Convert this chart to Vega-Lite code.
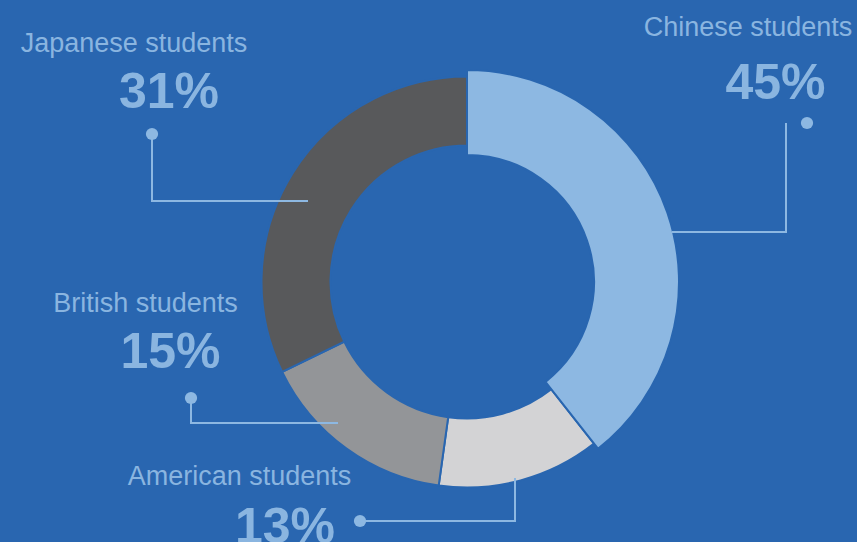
{
  "$schema": "https://vega.github.io/schema/vega-lite/v6.json",
  "width": 857,
  "height": 542,
  "autosize": "none",
  "padding": 0,
  "background": "#2966b0",
  "config": {"view": {"stroke": null}},
  "datasets": {
    "slices": [
      {"group": "Chinese", "share": 39.4, "ord": 1},
      {"group": "American", "share": 12.8, "ord": 2},
      {"group": "British", "share": 15.6, "ord": 3},
      {"group": "Japanese", "share": 32.2, "ord": 4}
    ],
    "names": [
      {"text": "Chinese students", "u": 281, "v": 246},
      {"text": "Japanese students", "u": -333, "v": 230},
      {"text": "British students", "u": -321.5, "v": -30},
      {"text": "American students", "u": -227.5, "v": -203}
    ],
    "pcts": [
      {"text": "45%", "u": 308.5, "v": 183},
      {"text": "31%", "u": -298, "v": 174},
      {"text": "15%", "u": -296.5, "v": -86},
      {"text": "13%", "u": -182, "v": -261}
    ],
    "leaders": [
      {"g": "Chinese", "o": 1, "u": 319, "v": 159},
      {"g": "Chinese", "o": 2, "u": 319, "v": 50},
      {"g": "Chinese", "o": 3, "u": 205, "v": 50},
      {"g": "Japanese", "o": 1, "u": -315, "v": 148},
      {"g": "Japanese", "o": 2, "u": -315, "v": 81},
      {"g": "Japanese", "o": 3, "u": -159, "v": 81},
      {"g": "British", "o": 1, "u": -276, "v": -116},
      {"g": "British", "o": 2, "u": -276, "v": -141},
      {"g": "British", "o": 3, "u": -129, "v": -141},
      {"g": "American", "o": 1, "u": -107, "v": -239},
      {"g": "American", "o": 2, "u": 48, "v": -239},
      {"g": "American", "o": 3, "u": 48, "v": -196}
    ],
    "dots": [
      {"g": "Chinese", "u": 340, "v": 159},
      {"g": "Japanese", "u": -315, "v": 148},
      {"g": "British", "u": -276, "v": -116},
      {"g": "American", "u": -107, "v": -239}
    ]
  },
  "layer": [
    {
      "data": {"name": "slices"},
      "mark": {"type": "arc", "outerRadius": 205.5, "innerRadius": 136.5, "stroke": "#2966b0", "strokeWidth": 2},
      "encoding": {
        "x": {"datum": 0, "type": "quantitative", "scale": {"domain": [-467, 390], "nice": false, "zero": false}, "axis": null},
        "y": {"datum": 0, "type": "quantitative", "scale": {"domain": [-260, 282], "nice": false, "zero": false}, "axis": null},
        "theta": {"field": "share", "type": "quantitative", "stack": true},
        "order": {"field": "ord", "type": "quantitative"},
        "color": {"field": "group", "type": "nominal", "legend": null,
          "scale": {"domain": ["Chinese", "American", "British", "Japanese"], "range": ["#8db8e2", "#d3d3d5", "#939598", "#58595b"]}}
      }
    },
    {
      "data": {"name": "slices"},
      "mark": {"type": "arc", "outerRadius": 212, "innerRadius": 127, "stroke": "#2966b0", "strokeWidth": 2},
      "encoding": {
        "x": {"datum": 0, "type": "quantitative", "scale": {"domain": [-467, 390], "nice": false, "zero": false}, "axis": null},
        "y": {"datum": 0, "type": "quantitative", "scale": {"domain": [-260, 282], "nice": false, "zero": false}, "axis": null},
        "theta": {"field": "share", "type": "quantitative", "stack": true},
        "order": {"field": "ord", "type": "quantitative"},
        "color": {"field": "group", "type": "nominal", "legend": null},
        "opacity": {"condition": {"test": "datum.group == 'Chinese'", "value": 1}, "value": 0}
      }
    },
    {
      "data": {"name": "leaders"},
      "mark": {"type": "line", "color": "#8db8e2", "strokeWidth": 2},
      "encoding": {
        "x": {"field": "u", "type": "quantitative", "scale": {"domain": [-467, 390], "nice": false, "zero": false}, "axis": null},
        "y": {"field": "v", "type": "quantitative", "scale": {"domain": [-260, 282], "nice": false, "zero": false}, "axis": null},
        "detail": {"field": "g"},
        "order": {"field": "o", "type": "quantitative"}
      }
    },
    {
      "data": {"name": "dots"},
      "mark": {"type": "circle", "color": "#8db8e2", "opacity": 1, "size": 150},
      "encoding": {
        "x": {"field": "u", "type": "quantitative", "scale": {"domain": [-467, 390], "nice": false, "zero": false}, "axis": null},
        "y": {"field": "v", "type": "quantitative", "scale": {"domain": [-260, 282], "nice": false, "zero": false}, "axis": null}
      }
    },
    {
      "data": {"name": "names"},
      "mark": {"type": "text", "font": "Liberation Sans", "fontSize": 27, "color": "#8ab5e0", "align": "center", "baseline": "alphabetic"},
      "encoding": {
        "x": {"field": "u", "type": "quantitative", "scale": {"domain": [-467, 390], "nice": false, "zero": false}, "axis": null},
        "y": {"field": "v", "type": "quantitative", "scale": {"domain": [-260, 282], "nice": false, "zero": false}, "axis": null},
        "text": {"field": "text"}
      }
    },
    {
      "data": {"name": "pcts"},
      "mark": {"type": "text", "font": "Liberation Sans", "fontSize": 50, "fontWeight": "bold", "color": "#8ab5e0", "align": "center", "baseline": "alphabetic"},
      "encoding": {
        "x": {"field": "u", "type": "quantitative", "scale": {"domain": [-467, 390], "nice": false, "zero": false}, "axis": null},
        "y": {"field": "v", "type": "quantitative", "scale": {"domain": [-260, 282], "nice": false, "zero": false}, "axis": null},
        "text": {"field": "text"}
      }
    }
  ]
}
